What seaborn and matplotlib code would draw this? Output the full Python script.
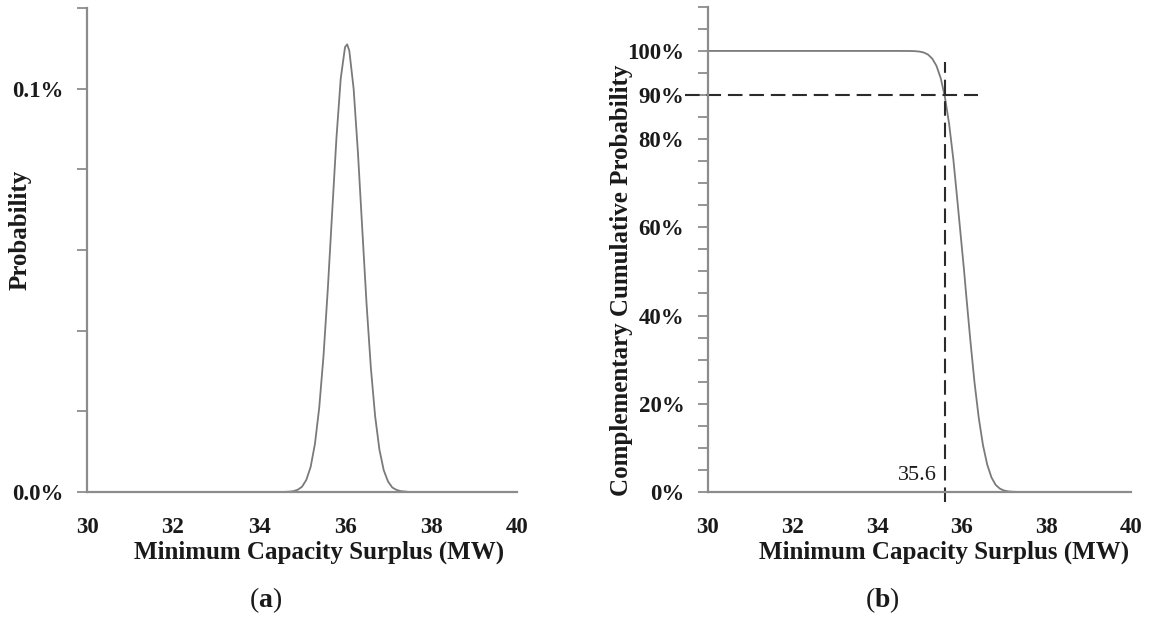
import numpy as np
import pandas as pd
import matplotlib
matplotlib.use("Agg")
import matplotlib.pyplot as plt
import seaborn as sns

# Minimum capacity surplus (MW)
surplus_mw = [30.0, 34.5, 34.6, 34.7, 34.8, 34.9, 35.0, 35.1, 35.2, 35.3, 35.4,
              35.5, 35.6, 35.7, 35.8, 35.9, 36.0, 36.05, 36.1, 36.2, 36.3, 36.4,
              36.5, 36.6, 36.7, 36.8, 36.9, 37.0, 37.1, 37.2, 37.3, 37.4, 37.5, 40.0]

# (a) probability, in percent
probability_pct = [0.0, 0.0, 0.00002, 0.00007, 0.0002, 0.00055, 0.0013, 0.0030,
                   0.0062, 0.0119, 0.0209, 0.0338, 0.0504, 0.0692, 0.0877, 0.1025,
                   0.1103, 0.1110, 0.1094, 0.1000, 0.0842, 0.0654, 0.0468, 0.0309,
                   0.0188, 0.0105, 0.0054, 0.0026, 0.0011, 0.0005, 0.0002, 0.0001,
                   0.0, 0.0]

# (b) complementary cumulative probability, in percent
ccdf_pct = [100.0, 100.0, 99.99, 99.99, 99.98, 99.94, 99.85, 99.64, 99.18, 98.27,
            96.63, 93.86, 89.56, 83.43, 75.36, 65.54, 55.5, 50.5, 45.0, 34.5, 24.8,
            16.8, 10.6, 6.2, 3.3, 1.6, 0.75, 0.32, 0.13, 0.05, 0.02, 0.01, 0.0, 0.0]

x_ticks = [30, 32, 34, 36, 38, 40]
a_major = [0.0, 0.1]
a_labels = ["0.0%", "0.1%"]
b_major = [0, 20, 40, 60, 80, 90, 100]
b_labels = ["0%", "20%", "40%", "60%", "80%", "90%", "100%"]
threshold_pct = 90
threshold_mw = 35.6

df = pd.DataFrame({"x": surplus_mw, "p": probability_pct, "c": ccdf_pct})

sns.set_style("ticks")
plt.rcParams["font.family"] = ["Liberation Serif", "DejaVu Serif"]
plt.rcParams["mathtext.fontset"] = "custom"
plt.rcParams["mathtext.rm"] = "Liberation Serif"
plt.rcParams["mathtext.bf"] = "Liberation Serif:bold"

axis_grey = "#8c8c8c"
curve_grey = "#7a7a7a"
text_col = "#1a1a1a"

fig = plt.figure(figsize=(11.53, 6.2), dpi=100)
ax1 = fig.add_axes([0.0755, 0.2065, 0.3729, 0.7805])
ax2 = fig.add_axes([0.614, 0.2065, 0.367, 0.7825])

sns.lineplot(data=df, x="x", y="p", ax=ax1, color=curve_grey, linewidth=1.3)
sns.lineplot(data=df, x="x", y="c", ax=ax2, color=curve_grey, linewidth=1.3)

def style_axis(ax, label_x):
    for s in ["top", "right"]:
        ax.spines[s].set_visible(False)
    for s in ["left", "bottom"]:
        ax.spines[s].set_color(axis_grey)
        ax.spines[s].set_linewidth(1.6)
    ax.set_xlim(30, 40)
    ax.set_xticks(x_ticks)
    ax.tick_params(axis="x", length=0, pad=18, labelsize=16.5, labelcolor=text_col)
    ax.tick_params(axis="y", which="both", length=7, width=1.3, color=axis_grey,
                   pad=10, labelsize=16.5, labelcolor=text_col)
    for lab in ax.get_xticklabels() + ax.get_yticklabels():
        lab.set_fontweight("bold")
    ax.set_xlabel("Minimum Capacity Surplus (MW)", fontsize=18, fontweight="bold",
                  color=text_col)
    ax.xaxis.set_label_coords(label_x, -0.1)

# (a)
ax1.set_ylim(0, 0.12)
ax1.set_yticks(a_major)
ax1.set_yticklabels(a_labels)
ax1.set_yticks([0.02, 0.04, 0.06, 0.08, 0.12], minor=True)
style_axis(ax1, 0.54)
ax1.set_ylabel("Probability", fontsize=18, fontweight="bold", color=text_col)
ax1.yaxis.set_label_coords(-0.128, 0.541)

# (b)
ax2.set_ylim(0, 110)
ax2.set_yticks(b_major)
ax2.set_yticklabels(b_labels)
ax2.set_yticks([5, 10, 15, 25, 30, 35, 45, 50, 55, 65, 70, 75, 85, 95, 105, 110],
               minor=True)
style_axis(ax2, 0.558)
ax2.set_ylabel("Complementary Cumulative Probability", fontsize=18,
               fontweight="bold", color=text_col)
ax2.yaxis.set_label_coords(-0.177, 0.437)

dash_col = "#2b2b2b"
ax2.plot([29.45, 36.38], [threshold_pct, threshold_pct], color=dash_col,
         linewidth=1.5, dashes=(7, 3.3), clip_on=False)
ax2.plot([threshold_mw, threshold_mw], [-2.2, 97.5], color=dash_col,
         linewidth=1.5, dashes=(7, 3.3), clip_on=False)
ax2.text(35.41, 1.5, "35.6", ha="right", va="bottom",
         fontsize=16, color=text_col)

fig.text(0.23, 0.032, r"($\mathbf{a}$)", ha="center", va="center", fontsize=20,
         color=text_col)
fig.text(0.765, 0.032, r"($\mathbf{b}$)", ha="center", va="center", fontsize=20,
         color=text_col)

fig.savefig("out.png", dpi=100)
